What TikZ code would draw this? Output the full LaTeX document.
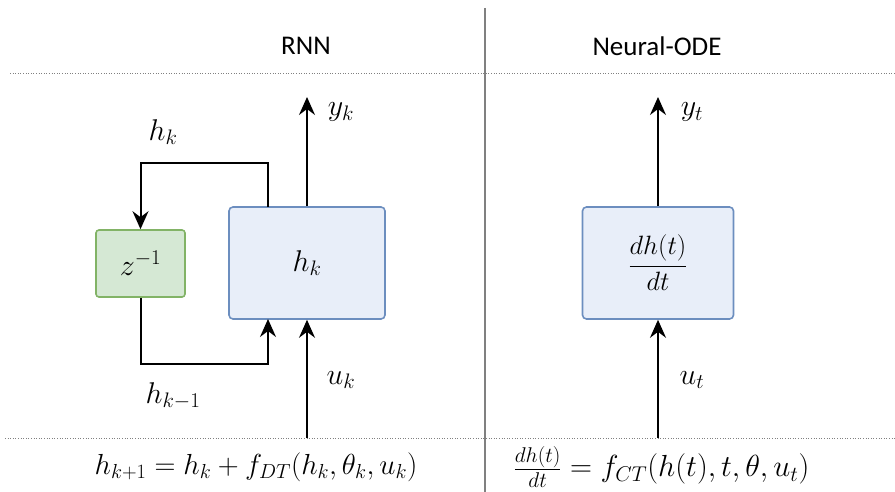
\RequirePackage{fix-cm}
\documentclass[tikz,border=0pt]{standalone}
\usepackage{amsmath}
\usepackage{fontspec}
\setsansfont{Carlito}
\usetikzlibrary{arrows.meta}
\definecolor{bluefill}{HTML}{E8EEF9}
\definecolor{bluedraw}{HTML}{6C8EBF}
\definecolor{greenfill}{HTML}{D5E8D4}
\definecolor{greendraw}{HTML}{82B366}
\definecolor{divgray}{HTML}{808080}
\tikzset{
  bluebox/.style={draw=bluedraw, fill=bluefill, line width=1.6pt, rounded corners=4pt, inner sep=0pt},
  greenbox/.style={draw=greendraw, fill=greenfill, line width=1.6pt, rounded corners=3pt, inner sep=0pt},
  flow/.style={line width=2pt, -{Stealth[length=18pt, width=16pt, inset=6pt]}},
  title/.style={font=\sffamily\fontsize{27}{30}\selectfont},
  lbl/.style={font=\fontsize{30}{34}\selectfont, inner sep=0pt},
  eq/.style={font=\fontsize{29}{32}\selectfont, inner sep=0pt},
  sep/.style={divgray, line width=0.6pt, dotted},
}
\begin{document}
\begin{tikzpicture}[x=1pt, y=-1pt]
\useasboundingbox (0,0) rectangle (895,492);
% separators
\draw[divgray, line width=1.8pt] (485,8) -- (485,492);
\draw[sep] (10,73) -- (895,73);
\draw[sep] (5,438) -- (895,438);
% titles
\node[title] (t1) at (306,46) {RNN};
\node[title] (t2) at (657,46) {Neural-ODE};
% RNN boxes
\node[bluebox, minimum width=156pt, minimum height=112pt] (rnn) at (307,263) {};
\node[lbl] at (rnn.center) {$h_k$};
\node[greenbox, minimum width=89pt, minimum height=67pt] (z) at (140.5,263.5) {};
\node[lbl] at (z.center) {$z^{-1}$};
% feedback
\coordinate (fa) at (268,207);
\coordinate (fb) at (268,163);
\coordinate (fc) at (140.5,163);
\draw[flow] (fa) -- (fb) -- (fc) -- (z.north);
\coordinate (ga) at (140.5,364);
\coordinate (gb) at (268,364);
\coordinate (gc) at (268,319);
\draw[flow] (z.south) -- (ga) -- (gb) -- (gc);
% y and u
\coordinate (ytop) at (307,97);
\coordinate (ubot) at (307,438);
\draw[flow] (rnn.north) -- (ytop);
\draw[flow] (ubot) -- (rnn.south);
\node[lbl] (yk) at (341,112) {$y_k$};
\node[lbl] (uk) at (341,380) {$u_k$};
\node[lbl] (hk) at (163,132) {$h_k$};
\node[lbl] (hk1) at (173,396) {$h_{k-1}$};
% ODE
\node[bluebox, minimum width=151pt, minimum height=112pt] (ode) at (658,263) {};
\node[lbl, font=\fontsize{26.5}{30}\selectfont] at (ode.center) {$\dfrac{dh(t)}{dt}$};
\coordinate (ytop2) at (658,97);
\coordinate (ubot2) at (658,438);
\draw[flow] (ode.north) -- (ytop2);
\draw[flow] (ubot2) -- (ode.south);
\node[lbl] (yt) at (692,112) {$y_t$};
\node[lbl] (ut) at (692,380) {$u_t$};
% equations
\node[eq] (e1) at (256,467) {$h_{k+1} = h_k + f_{DT}(h_k,\theta_k,u_k)$};
\node[eq, font=\fontsize{30.5}{33}\selectfont] (e2) at (661.5,467) {$\frac{dh(t)}{dt} = f_{CT}(h(t),t,\theta,u_t)$};
\end{tikzpicture}
\end{document}
